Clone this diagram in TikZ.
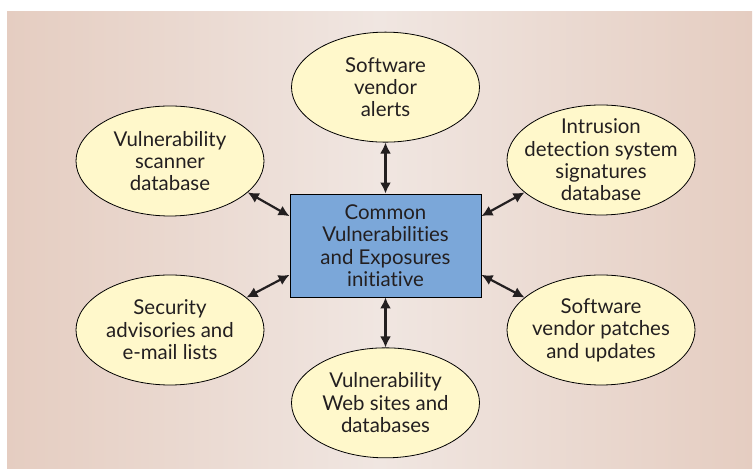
\documentclass[tikz,border=0pt]{standalone}
\usepackage{fontspec}
\setsansfont{Lato}[Ligatures={NoCommon,NoContextual}]
\usepackage{xcolor}
\usepackage{tikz}
\usetikzlibrary{shapes.geometric,arrows.meta,positioning}
\definecolor{bgedge}{HTML}{E5CDC1}
\definecolor{bgmid}{HTML}{F0E6E1}
\definecolor{srcfill}{HTML}{FFF8CB}
\definecolor{cvefill}{HTML}{7BA7D9}
\definecolor{txt}{HTML}{231F20}
\tikzstyle{source} = [draw, ellipse, fill=srcfill, line width=0.8bp,
    minimum width=188bp, minimum height=110bp, inner xsep=-40bp, inner ysep=-30bp,
    align=center, text=txt, font=\sffamily\fontsize{20.5}{22.5}\selectfont]
\tikzstyle{block} = [draw, rectangle, fill=cvefill, line width=0.9bp,
    minimum width=191bp, minimum height=103bp, inner sep=0pt,
    align=center, text=txt, font=\sffamily\fontsize{20.5}{22.5}\selectfont]
\tikzstyle{connector} = [{Latex[length=11bp,width=11bp]}-{Latex[length=11bp,width=11bp]}, line width=2.2bp, txt]

\begin{document}
\begin{tikzpicture}[x=1bp,y=1bp]
		\useasboundingbox (0,0) rectangle (755,472);
		\fill[left color=bgedge, right color=bgedge, middle color=bgmid] (7,3) rectangle (752,460);
		
		\node[block] (cve) at (385.5,226.5) {Common\\Vulnerabilities\\and Exposures\\initiative};
		
		\node[source, above=51bp of cve] (alerts) {Software\\vendor\\alerts};
		\node[source, below=50bp of cve] (websites) {Vulnerability\\Web sites and\\databases};
		\node[source] (scanner) at (170,311) {Vulnerability\\scanner\\database};
		\node[source] (ids) at (601,312) {Intrusion\\detection system\\signatures\\database};
		\node[source] (advisories) at (170,142) {Security\\advisories and\\e-mail lists};
		\node[source] (patches) at (601,142) {Software\\vendor patches\\and updates};
		
		\draw[connector] (cve) to (alerts);
		\draw[connector] (cve) to (websites);
		\draw[connector] (cve.163) to (scanner.-22);
		\draw[connector] (cve.197) to (advisories.23);
		\draw[connector] (cve.17) to (ids.203);
		\draw[connector] (cve.-17) to (patches.157);
	\end{tikzpicture}
\end{document}
